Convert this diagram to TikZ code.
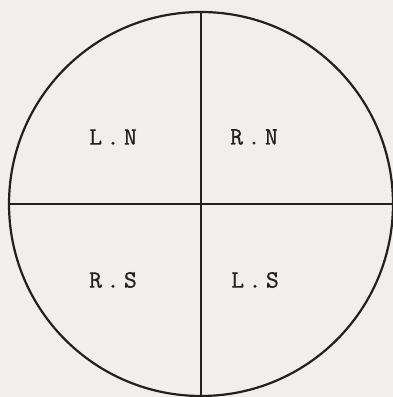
\documentclass[tikz,border=0pt]{standalone}
\usepackage{fontspec}
\setmonofont{Latin Modern Mono}[LetterSpace=18,FakeBold=0.8]
\definecolor{paper}{RGB}{241,239,236}
\definecolor{ink}{RGB}{35,33,32}
\begin{document}
\begin{tikzpicture}[x=1pt,y=1pt,
  lbl/.style={font=\ttfamily\fontsize{25}{25}\selectfont, text=ink, inner sep=0pt},
  rim/.style={circle, draw=ink, line width=2.2pt, minimum size=384pt, inner sep=0pt},
  div/.style={draw=ink, line width=1.6pt}]
\fill[paper] (0,0) rectangle (393,397);
\useasboundingbox (0,0) rectangle (393,397);
\node[rim] (c) at (201,193) {};
\draw[div] (c.north) -- (c.south);
\draw[div] (c.west) -- (c.east);
\node[lbl] (ln) at (113,260) {L.N};
\node[lbl] (rn) at (254,260) {R.N};
\node[lbl] (rs) at (113,117) {R.S};
\node[lbl] (ls) at (255,117) {L.S};
\end{tikzpicture}
\end{document}
